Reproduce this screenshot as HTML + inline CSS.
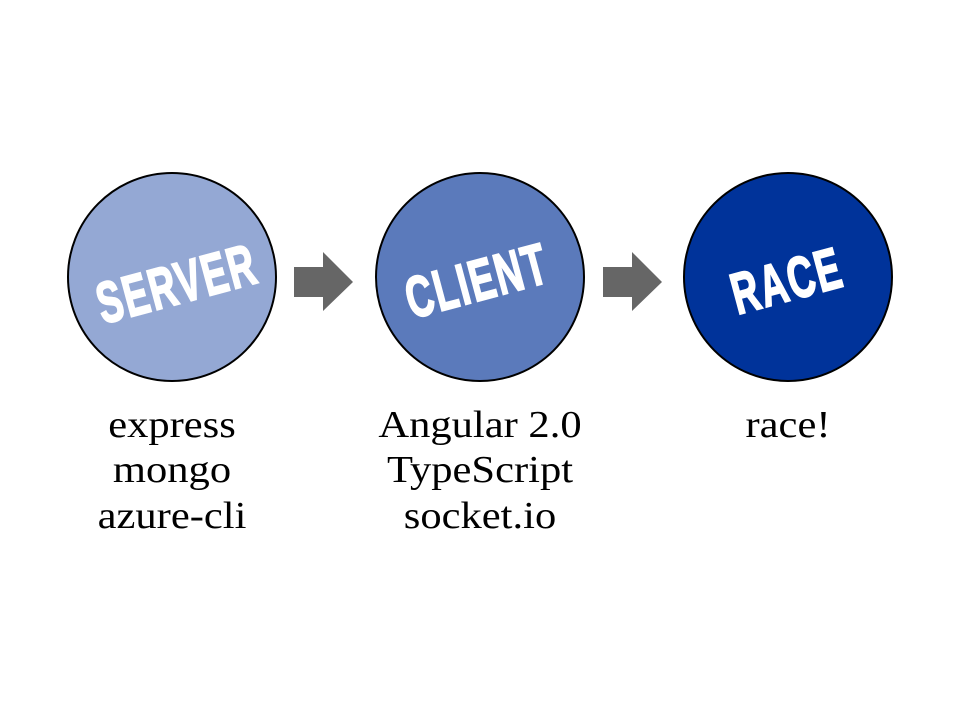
<!DOCTYPE html>
<html><head><style>
body{margin:0;width:960px;height:700px;background:#fff;overflow:hidden}
</style></head><body>
<svg width="960" height="700" xmlns="http://www.w3.org/2000/svg">
<circle cx="172" cy="277" r="104" fill="#94a8d4" stroke="#000" stroke-width="2"/>
<circle cx="480" cy="277" r="104" fill="#5b7abb" stroke="#000" stroke-width="2"/>
<circle cx="788" cy="277" r="104" fill="#00339a" stroke="#000" stroke-width="2"/>
<polygon points="294,267 323,267 323,252 353,282 323,311 323,297 294,297" fill="#666"/>
<polygon points="603,267 632,267 632,252 662,282 632,311 632,297 603,297" fill="#666"/>
<g font-family="Liberation Sans, sans-serif" font-weight="bold" fill="#fff" stroke="#fff" stroke-width="2" font-size="58" text-anchor="middle" letter-spacing="3">
<text transform="translate(182,303) rotate(-15) scale(0.64,1)">SERVER</text>
<text transform="translate(482,300) rotate(-15) scale(0.64,1)">CLIENT</text>
<text transform="translate(792,300) rotate(-15) scale(0.64,1)">RACE</text>
</g>
<g font-family="Liberation Serif, serif" font-size="38" fill="#000" text-anchor="middle">
<text transform="translate(172,437) scale(1.12,1)">express</text>
<text transform="translate(172,482) scale(1.12,1)">mongo</text>
<text transform="translate(172,528) scale(1.12,1)">azure-cli</text>
<text transform="translate(480,437) scale(1.12,1)">Angular 2.0</text>
<text transform="translate(480,482) scale(1.12,1)">TypeScript</text>
<text transform="translate(480,528) scale(1.12,1)">socket.io</text>
<text transform="translate(788,437) scale(1.12,1)">race!</text>
</g>
</svg>
</body></html>
